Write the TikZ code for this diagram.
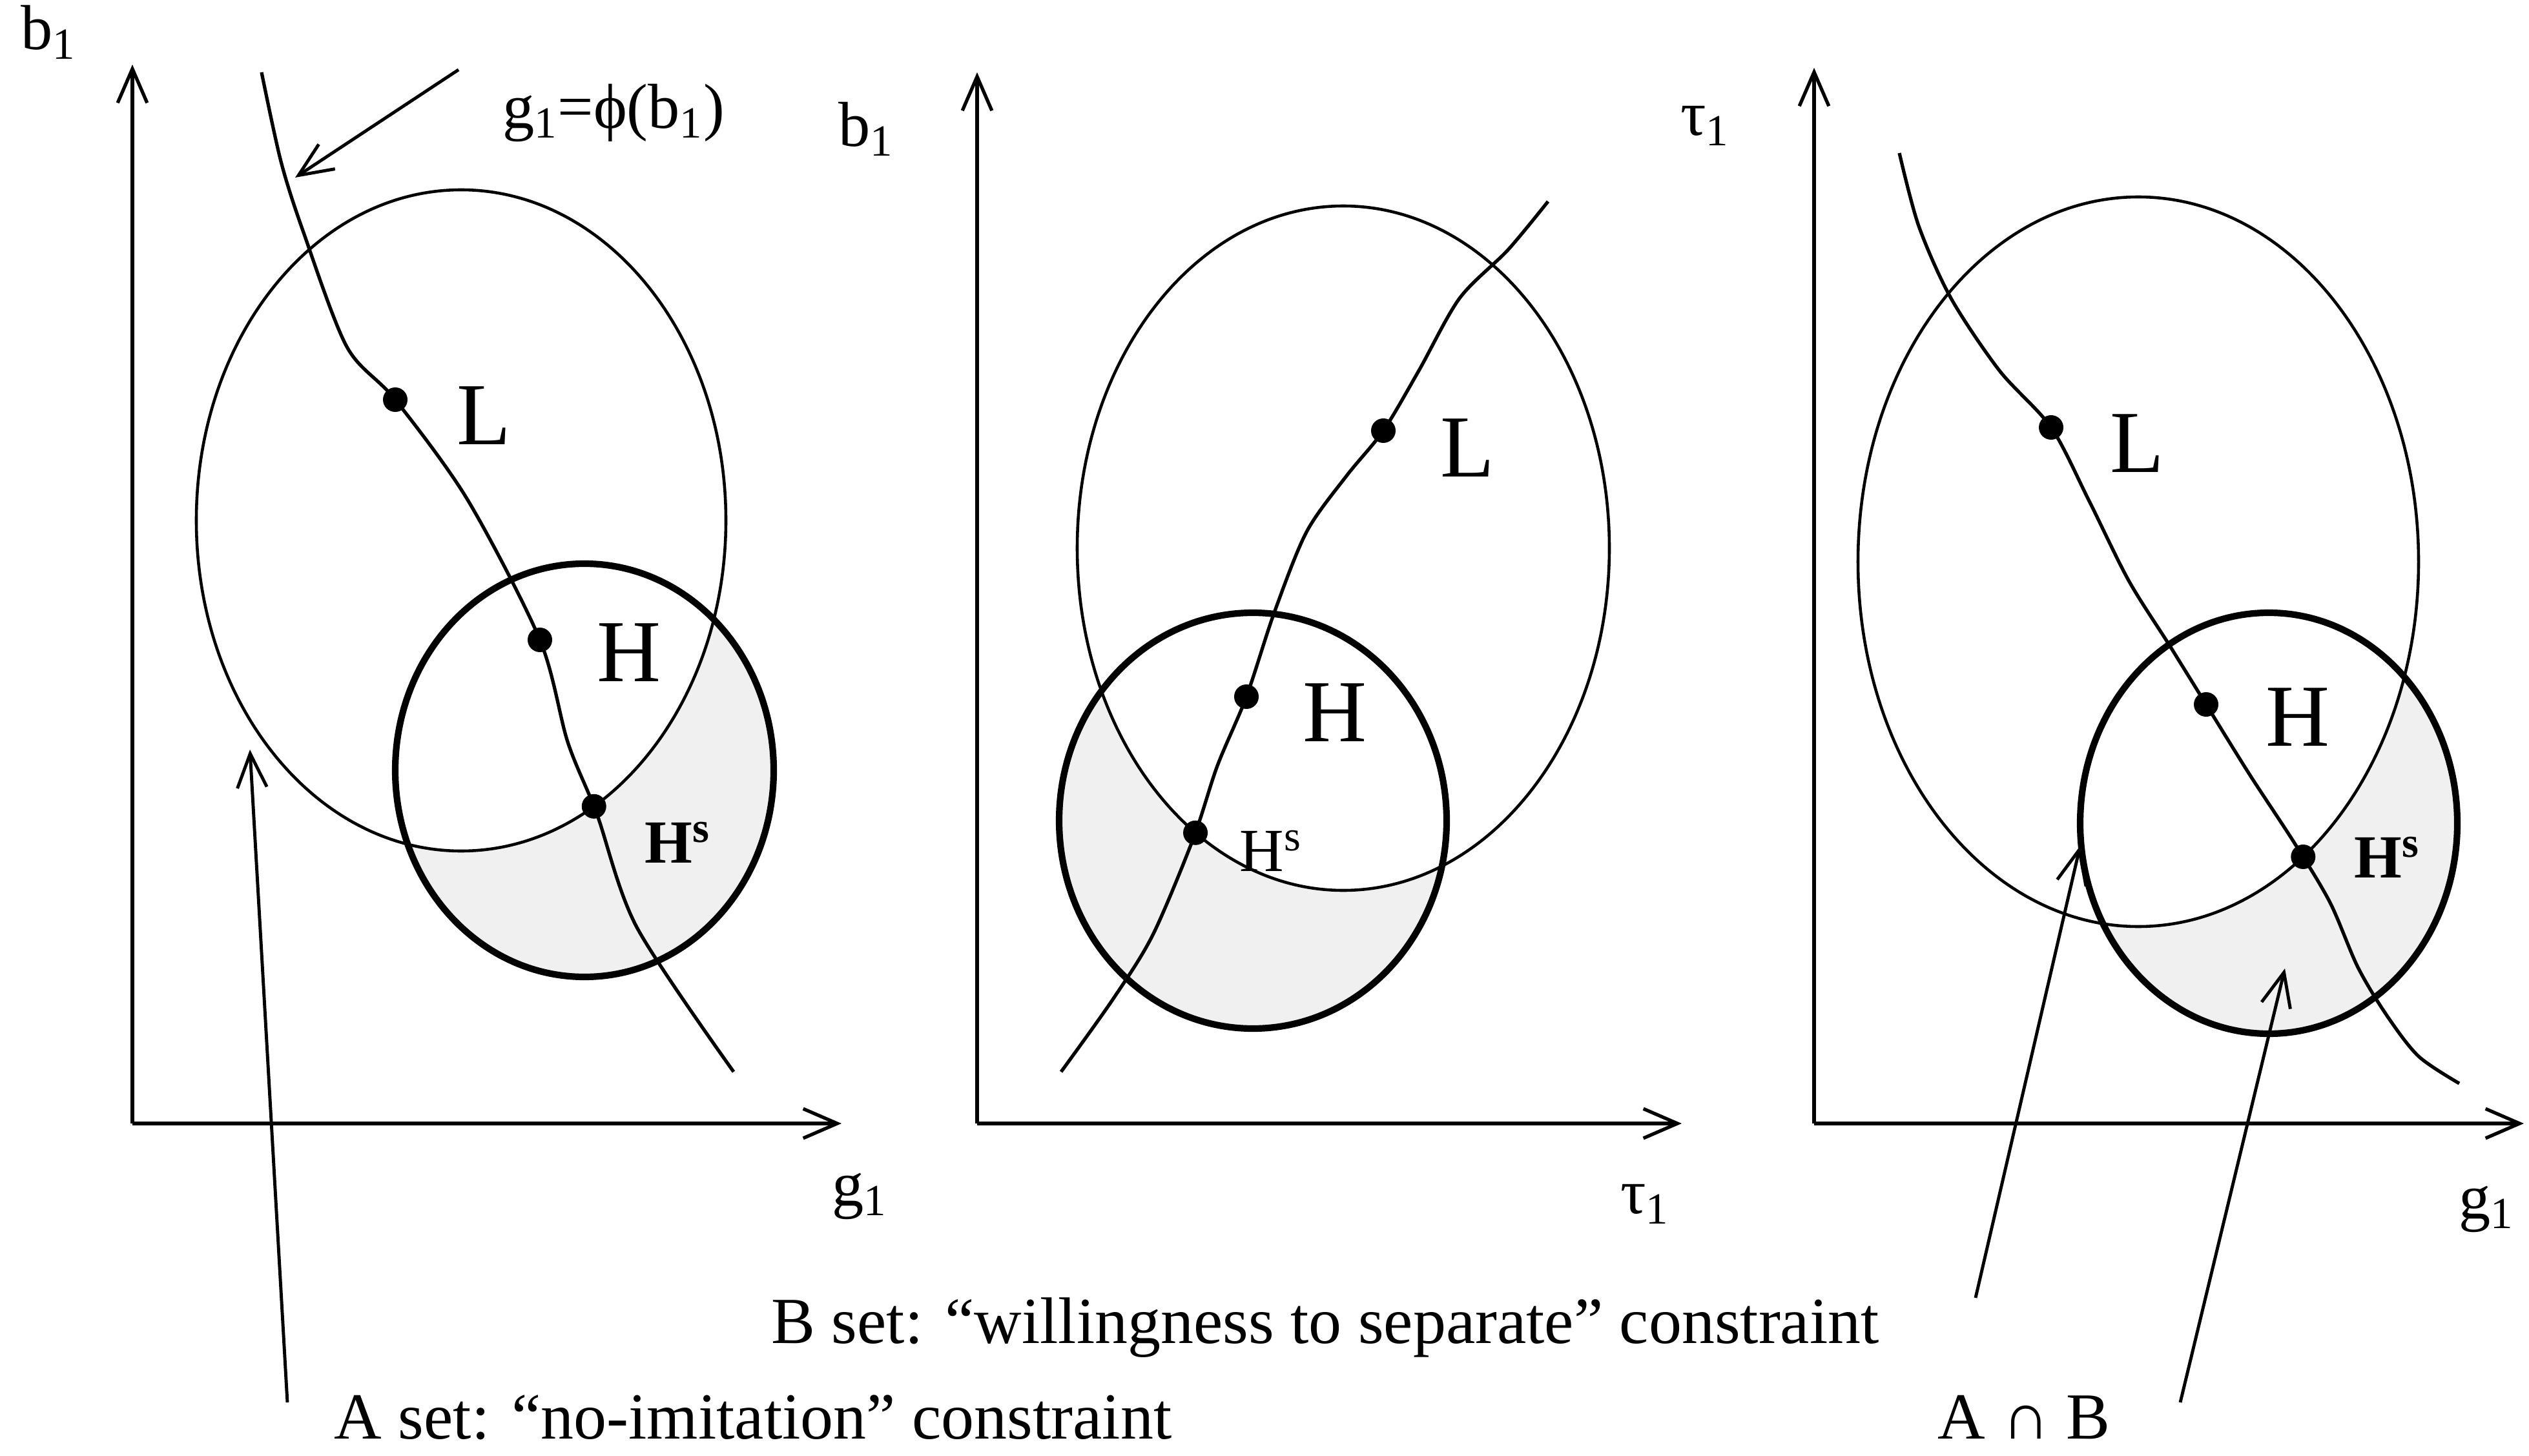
\documentclass[tikz,border=0pt]{standalone}
\usepackage{fontspec}
\setmainfont{Liberation Serif}
\usetikzlibrary{arrows.meta, intersections}

\tikzset{
    >={Straight Barb[length=15pt, width=13pt]},
    axis/.style={line width=1.5pt, ->},
    pointer/.style={line width=1.4pt, ->},
    setA/.style={line width=1.3pt},
    setB/.style={line width=2.9pt},
    locus/.style={line width=1.5pt},
    shaded/.style={fill=black!6},
    dot/.style={circle, fill, inner sep=0pt, minimum size=0.38cm},
    ptlabel/.style={font=\fontsize{39}{40}\selectfont},
    hslabel/.style={font=\fontsize{27}{30}\selectfont},
    axlabel/.style={font=\fontsize{28}{30}\selectfont},
    caption/.style={font=\fontsize{29}{32}\selectfont, inner sep=0pt, anchor=base},
}

\begin{document}
\begin{tikzpicture}[x=1cm, y=-1cm]
    \useasboundingbox (0,0) rectangle (39.16,22.55);

    % ---------- Panel 1: b1 against g1 ----------
    \coordinate (O1) at (2.05,17.40);
    \coordinate (Y1) at (2.05,1.00);
    \coordinate (X1) at (13.03,17.40);

    % Shaded part of B outside A
    \begin{scope}
        \clip (9.05,11.93) ellipse [x radius=2.93, y radius=3.20];
        \fill[shaded, even odd rule] (7.14,8.06) ellipse [x radius=4.10, y radius=5.12]
            (0,0) rectangle (39.16,22.55);
    \end{scope}

    \draw[axis] (O1) -- (Y1);
    \draw[axis] (O1) -- (X1);
    \draw[setA, name path=thinA] (7.14,8.06) ellipse [x radius=4.10, y radius=5.12];
    \draw[setB] (9.05,11.93) ellipse [x radius=2.93, y radius=3.20];

    % Locus g1 = phi(b1)
    \draw[locus, name path=locA] plot[smooth] coordinates {
        (4.05,1.12) (4.35,2.50) (4.70,3.60) (5.37,5.37) (6.12,6.19) (7.24,7.74)
        (8.36,9.91) (8.79,11.49) (9.24,12.60) (9.86,14.36) (11.36,16.60)};
    \path[name intersections={of=locA and thinA, sort by=locA, by={a1,Hs1pt}}];

    \node[dot] (L1) at (6.12,6.19) {};
    \node[dot] (H1) at (8.36,9.91) {};
    \node[dot] (Hs1) at (Hs1pt) {};
    \node[ptlabel] (L1lab) at (7.49,6.44) {L};
    \node[ptlabel] (H1lab) at (9.74,10.11) {H};
    \node[hslabel, font=\bfseries\fontsize{27}{30}\selectfont] (Hs1lab) at (10.49,13.05) {H\textsuperscript{s}};

    \node[axlabel] (b1A) at (0.75,0.50) {b\textsubscript{1}};
    \node[axlabel] (g1A) at (13.31,18.53) {g\textsubscript{1}};
    \node[axlabel] (phi) at (9.50,1.75) {g\textsubscript{1}=ϕ(b\textsubscript{1})};
    \coordinate (phitail) at (7.10,1.08);
    \coordinate (phitip) at (4.57,2.75);
    \draw[pointer] (phitail) -- (phitip);

    % ---------- Panel 2: b1 against tau1 ----------
    \coordinate (O2) at (15.13,17.40);
    \coordinate (Y2) at (15.13,1.12);
    \coordinate (X2) at (26.04,17.40);

    \begin{scope}
        \clip (19.40,12.71) ellipse [x radius=3.00, y radius=3.22];
        \fill[shaded, even odd rule] (20.80,8.49) ellipse [x radius=4.12, y radius=5.30]
            (0,0) rectangle (39.16,22.55);
    \end{scope}

    \draw[axis] (O2) -- (Y2);
    \draw[axis] (O2) -- (X2);
    \draw[setA, name path=thinB] (20.80,8.49) ellipse [x radius=4.12, y radius=5.30];
    \draw[setB] (19.40,12.71) ellipse [x radius=3.00, y radius=3.22];

    \draw[locus, name path=locB] plot[smooth] coordinates {
        (16.43,16.60) (17.23,15.48) (17.85,14.48) (18.48,12.98) (18.85,11.86)
        (19.30,10.79) (19.73,9.49) (20.23,8.24) (20.85,7.37) (21.42,6.67)
        (21.97,5.74) (22.60,4.62) (23.35,3.87) (23.97,3.12)};
    \path[name intersections={of=locB and thinB, sort by=locB, by={Hs2pt,b2}}];

    \node[dot] (L2) at (21.42,6.67) {};
    \node[dot] (H2) at (19.30,10.79) {};
    \node[dot] (Hs2) at (Hs2pt) {};
    \node[ptlabel] (L2lab) at (22.72,6.94) {L};
    \node[ptlabel] (H2lab) at (20.67,11.04) {H};
    \node[hslabel] (Hs2lab) at (19.68,13.18) {H\textsuperscript{s}};

    \node[axlabel] (b1B) at (13.41,2.00) {b\textsubscript{1}};
    \node[axlabel] (t1B) at (25.47,18.65) {τ\textsubscript{1}};

    % ---------- Panel 3: tau1 against g1 ----------
    \coordinate (O3) at (28.09,17.40);
    \coordinate (Y3) at (28.09,1.05);
    \coordinate (X3) at (39.08,17.40);

    \begin{scope}
        \clip (35.13,12.75) ellipse [x radius=2.92, y radius=3.26];
        \fill[shaded, even odd rule] (33.11,8.70) ellipse [x radius=4.34, y radius=5.65]
            (0,0) rectangle (39.16,22.55);
    \end{scope}

    \draw[axis] (O3) -- (Y3);
    \draw[axis] (O3) -- (X3);
    \draw[setA, name path=thinC] (33.11,8.70) ellipse [x radius=4.34, y radius=5.65];
    \draw[setB] (35.13,12.75) ellipse [x radius=2.92, y radius=3.26];

    \draw[locus, name path=locC] plot[smooth] coordinates {
        (29.41,2.37) (29.71,3.50) (30.21,4.62) (30.96,5.74) (31.76,6.62)
        (32.34,7.74) (32.96,8.99) (33.59,9.99) (34.16,10.91) (34.83,11.99)
        (35.53,13.06) (36.08,13.98) (36.51,14.98) (36.96,15.73) (37.45,16.36) (38.08,16.78)};
    \path[name intersections={of=locC and thinC, sort by=locC, by={c1,Hs3pt}}];

    \node[dot] (L3) at (31.76,6.62) {};
    \node[dot] (H3) at (34.16,10.91) {};
    \node[dot] (Hs3) at (Hs3pt) {};
    \node[ptlabel] (L3lab) at (33.09,6.87) {L};
    \node[ptlabel] (H3lab) at (35.58,11.11) {H};
    \node[hslabel, font=\bfseries\fontsize{27}{30}\selectfont] (Hs3lab) at (36.96,13.28) {H\textsuperscript{s}};

    \node[axlabel] (t1C) at (26.40,1.95) {τ\textsubscript{1}};
    \node[axlabel] (g1C) at (38.50,18.73) {g\textsubscript{1}};

    % ---------- Captions and pointers ----------
    \node[caption] (Aset) at (11.66,22.28) {A set: “no-imitation” constraint};
    \node[caption] (Bset) at (20.52,20.80) {B set: “willingness to separate” constraint};
    \node[caption] (AB) at (31.34,22.28) {A ∩ B};

    \coordinate (Atail) at (4.45,21.72);
    \coordinate (Atip) at (3.87,11.61);
    \coordinate (Btail) at (30.59,20.10);
    \coordinate (Btip) at (32.21,13.10);
    \coordinate (ABtail) at (33.76,21.72);
    \coordinate (ABtip) at (35.38,15.00);
    \draw[pointer] (Atail) -- (Atip);
    \draw[pointer] (Btail) -- (Btip);
    \draw[pointer] (ABtail) -- (ABtip);
\end{tikzpicture}
\end{document}
